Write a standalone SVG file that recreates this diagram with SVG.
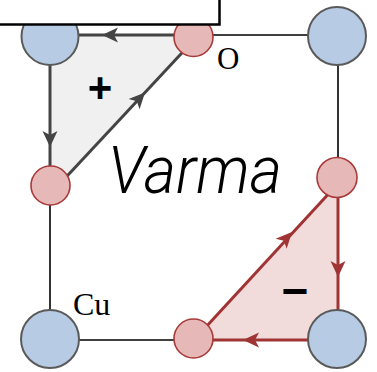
<svg xmlns="http://www.w3.org/2000/svg" width="377" height="372" viewBox="0 0 377 372">
<style>
.blue{fill:#b7cce4;stroke:#5a5a5a;stroke-width:2}
.pink{fill:#e6b8b7;stroke:#a83a3a;stroke-width:1.6}
.thin{stroke:#000;stroke-width:1.6;fill:none}
.gray{stroke:#444;stroke-width:3;fill:none}
.red{stroke:#a03434;stroke-width:3;fill:none}
.ahg{fill:#444}
.ahr{fill:#a03434}
.serif{font-family:"Liberation Serif","Times New Roman",serif;font-size:31px;fill:#000}
.sign{font-family:"Liberation Sans",Arial,sans-serif;font-weight:bold;fill:#000;text-anchor:middle}
</style>
<defs>
<path id="ah" d="M0,0 L-16,-7.5 L-12,0 L-16,7.5 Z"/>
</defs>
<rect width="377" height="372" fill="#fff"/>
<g id="regions">
<polygon points="50,35 193,35 190,44.3 55,189.1 50,189" fill="#f0f0f0"/>
<polygon points="338,177 338,339.5 193,339.5 209.3,323.3 326,196.7" fill="#f2dcdb"/>
</g>
<g id="connectors">
<line class="thin" x1="193" y1="35" x2="338" y2="35"/>
<line class="thin" x1="338" y1="36" x2="338" y2="177"/>
<line class="thin" x1="50" y1="186" x2="50" y2="339"/>
<line class="thin" x1="50" y1="340" x2="193" y2="340"/>
<line class="gray" x1="193" y1="35" x2="50" y2="35"/>
<line class="gray" x1="50" y1="36" x2="50" y2="186"/>
<line class="gray" x1="55" y1="189.1" x2="190" y2="44.3"/>
<line class="red" x1="338" y1="177" x2="338" y2="339"/>
<line class="red" x1="338" y1="340" x2="193" y2="340"/>
<line class="red" x1="199" y1="334.5" x2="333" y2="189"/>
<use href="#ah" class="ahg" transform="translate(102,35) rotate(180)"/>
<use href="#ah" class="ahg" transform="translate(50,147) rotate(90)"/>
<use href="#ah" class="ahg" transform="translate(145,92.5) rotate(-47)"/>
<use href="#ah" class="ahr" transform="translate(338,277) rotate(90)"/>
<use href="#ah" class="ahr" transform="translate(243,340) rotate(180)"/>
<use href="#ah" class="ahr" transform="translate(292,232) rotate(-47.3)"/>
</g>
<g id="cu-tl"><circle class="blue" cx="50" cy="36.5" r="28.5"/></g>
<g id="o-top"><circle class="pink" cx="193.5" cy="37" r="19.5"/></g>
<g id="cu-tr"><circle class="blue" cx="337" cy="36" r="29"/></g>
<g id="o-left"><circle class="pink" cx="50.5" cy="185.5" r="19.5"/></g>
<g id="o-right"><circle class="pink" cx="337" cy="177.5" r="20"/></g>
<g id="cu-bl"><circle class="blue" cx="50" cy="339" r="29"/></g>
<g id="o-bottom"><circle class="pink" cx="193.5" cy="338.5" r="19.5"/></g>
<g id="cu-br"><circle class="blue" cx="337" cy="339" r="29"/></g>
<g id="labels">
<text class="serif" x="217" y="69">O</text>
<text class="serif" x="73" y="315" style="font-size:32px">Cu</text>
<text class="sign" x="100" y="102" style="font-size:42px">+</text>
<text class="sign" x="295" y="307" style="font-size:46px">−</text>
<text x="108" y="193" font-family="Roboto,'Liberation Sans',Arial,sans-serif" font-style="italic" font-weight="300" font-size="66" textLength="174" lengthAdjust="spacingAndGlyphs" fill="#000">Varma</text>
</g>
<g id="title-box"><rect x="-3" y="-3" width="222.5" height="27.5" fill="#fff" stroke="#000" stroke-width="2.5"/></g>
</svg>
